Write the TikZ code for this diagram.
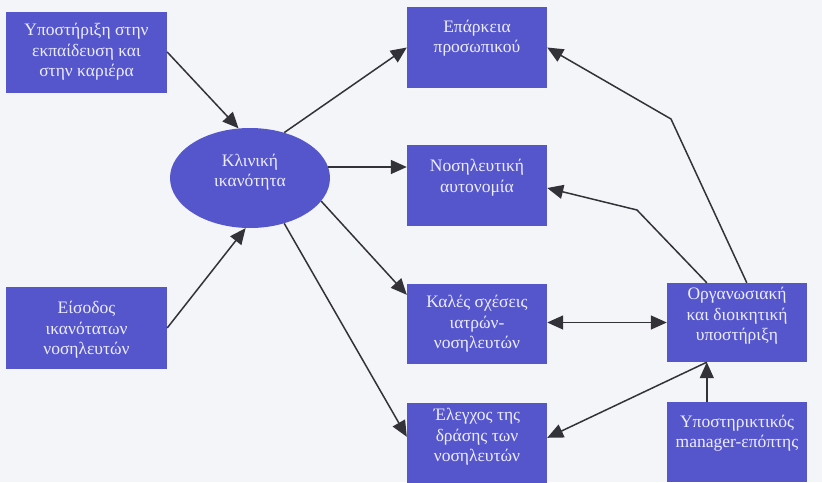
\documentclass[tikz,border=0pt]{standalone}
\usepackage{fontspec}
\setmainfont{Liberation Serif}
\usetikzlibrary{arrows.meta,calc,shapes.geometric}
\definecolor{bg}{RGB}{244,245,249}
\definecolor{boxfill}{RGB}{86,86,204}
\definecolor{boxtext}{RGB}{236,236,255}
\definecolor{linecol}{RGB}{50,50,56}
\begin{document}
\begin{tikzpicture}[x=1pt,y=-1pt,
  box/.style={rectangle, fill=boxfill, inner sep=0pt},
  lbl/.style={text=boxtext, align=center, inner sep=0pt, font=\fontsize{17.5}{20.5}\selectfont},
  oval/.style={ellipse, fill=boxfill, inner sep=0pt, minimum width=160pt, minimum height=100pt},
  arr/.style={draw=linecol, line width=1.5pt, -{Triangle[length=16pt,width=14pt]}},
  darr/.style={draw=linecol, line width=1.5pt, {Triangle[length=16pt,width=14pt]}-{Triangle[length=16pt,width=14pt]}}
]
\fill[bg] (0,0) rectangle (822,482);
\useasboundingbox (0,0) rectangle (822,482);

\node[box, minimum width=161pt, minimum height=81pt] (b1) at (86.5,52) {};
\node[lbl] at (86.5,52) {Υποστήριξη στην\\εκπαίδευση και\\στην καριέρα};
\node[box, minimum width=161pt, minimum height=82pt] (b2) at (86.5,328) {};
\node[lbl] at (86.5,330) {Είσοδος\\ικανότατων\\νοσηλευτών};
\node[oval] (e) at (250,178) {};
\node[lbl] at (250,172) {Κλινική\\ικανότητα};
\node[box, minimum width=140pt, minimum height=81pt] (r1) at (477,47.5) {};
\node[lbl] at (477,38) {Επάρκεια\\προσωπικού};
\node[box, minimum width=140pt, minimum height=81pt] (r2) at (477,185.5) {};
\node[lbl] at (477,177.5) {Νοσηλευτική\\αυτονομία};
\node[box, minimum width=140pt, minimum height=80pt] (r3) at (477,324) {};
\node[lbl] at (477,324) {Καλές σχέσεις\\ιατρών-\\νοσηλευτών};
\node[box, minimum width=140pt, minimum height=80pt] (r4) at (477,443) {};
\node[lbl] at (477,437) {Έλεγχος της\\δράσης των\\νοσηλευτών};
\node[box, minimum width=140pt, minimum height=79pt] (o) at (737,322.5) {};
\node[lbl] at (737,316) {Οργανωσιακή\\και διοικητική\\υποστήριξη};
\node[box, minimum width=140pt, minimum height=80pt] (s) at (737,442) {};
\node[lbl] at (737,433) {Υποστηρικτικός\\manager-επόπτης};

\coordinate (so) at ($(o.south west)+(40,0)$);
\coordinate (ot1) at ($(o.north west)+(80,0)$);
\coordinate (ot2) at ($(o.north west)+(40,0)$);
\coordinate (k1) at (671,119);
\coordinate (k2) at (637,210);

\draw[arr] (b1.east) -- (e.103);
\draw[arr] (b2.east) -- (e.265);
\draw[arr] (e.53) -- (r1.west);
\draw[arr] (e.8) -- (e.8 -| r2.west);
\draw[arr] (e.-18) -- ($(r3.north west)+(0,11)$);
\draw[arr] (e.-53) -- ($(r4.north west)+(0,34)$);
\draw[darr] (o.west -| r3.east) -- (o.west);
\draw[arr] (so |- s.north) -- (so);
\draw[arr] (so) -- ($(r4.north east)+(0,35)$);
\draw[arr] (ot1) -- (k1) -- (r1.east);
\draw[arr] (ot2) -- (k2) -- ($(r2.east)+(0,2.5)$);
\end{tikzpicture}
\end{document}
